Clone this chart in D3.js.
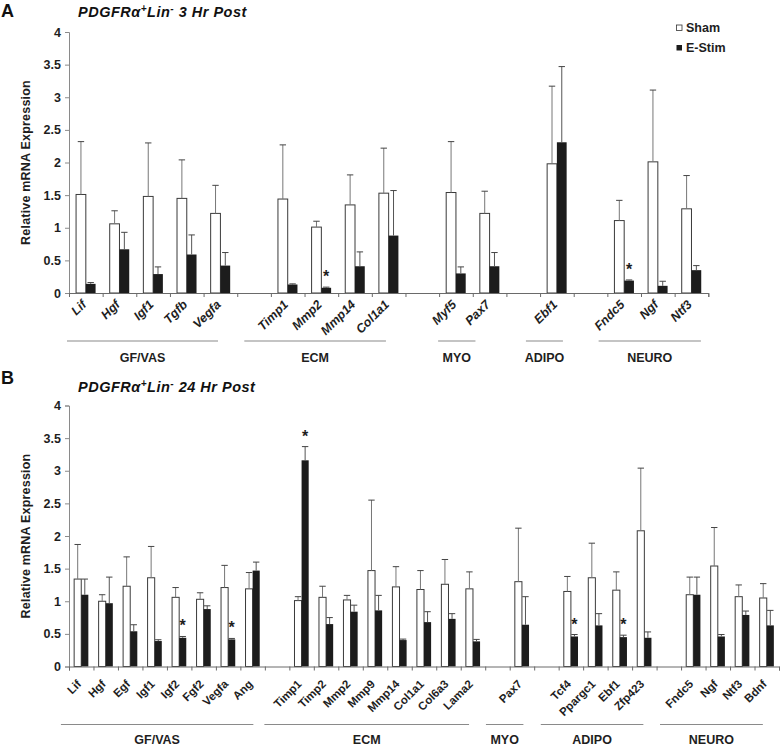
<!DOCTYPE html>
<html><head><meta charset="utf-8">
<script src="https://cdn.jsdelivr.net/npm/d3@7"></script>
<style>
html,body{margin:0;padding:0;background:#fff;}
svg{display:block;font-family:"Liberation Sans",Arial,sans-serif;}
</style></head>
<body>
<svg id="chart" width="780" height="748"></svg>
<script>
// ---------- DATA ----------
const yTicks = [0, 0.5, 1, 1.5, 2, 2.5, 3, 3.5, 4];
const seriesNames = ["Sham", "E-Stim"];
const groupNames = ["GF/VAS", "ECM", "MYO", "ADIPO", "NEURO"];

// Panel A: 3 Hr Post ("" = empty slot between groups)
const genesA   = ["Lif","Hgf","Igf1","Tgfb","Vegfa","","Timp1","Mmp2","Mmp14","Col1a1","","Myf5","Pax7","","Ebf1","","Fndc5","Ngf","Ntf3"];
const shamA    = [1.51,1.06,1.48,1.45,1.22,null,1.44,1.01,1.35,1.53,null,1.54,1.22,null,1.98,null,1.11,2.01,1.29];
const shamErrA = [0.81,0.20,0.82,0.59,0.43,null,0.83,0.09,0.46,0.69,null,0.78,0.34,null,1.19,null,0.31,1.10,0.51];
const stimA    = [0.14,0.67,0.29,0.59,0.42,null,0.13,0.08,0.41,0.88,null,0.30,0.41,null,2.31,null,0.19,0.11,0.35];
const stimErrA = [0.02,0.26,0.11,0.30,0.20,null,0.01,0.01,0.22,0.69,null,0.10,0.21,null,1.16,null,0.01,0.07,0.07];
const sigA     = ["Mmp2","Fndc5"];

// Panel B: 24 Hr Post
const genesB   = ["Lif","Hgf","Egf","Igf1","Igf2","Fgf2","Vegfa","Ang","","Timp1","Timp2","Mmp2","Mmp9","Mmp14","Col1a1","Col6a3","Lama2","","Pax7","","Tcf4","Ppargc1","Ebf1","Zfp423","","Fndc5","Ngf","Ntf3","Bdnf"];
const shamB    = [1.34,1.00,1.23,1.36,1.06,1.03,1.21,1.19,null,1.01,1.06,1.02,1.47,1.22,1.18,1.26,1.19,null,1.30,null,1.15,1.36,1.17,2.08,null,1.10,1.54,1.07,1.05];
const shamErrB = [0.53,0.10,0.45,0.48,0.15,0.10,0.34,0.25,null,0.06,0.17,0.07,1.08,0.31,0.29,0.38,0.26,null,0.82,null,0.23,0.53,0.28,0.96,null,0.27,0.59,0.18,0.22];
const stimB    = [1.10,0.97,0.54,0.39,0.44,0.88,0.415,1.47,null,3.16,0.65,0.84,0.86,0.405,0.68,0.73,0.385,null,0.64,null,0.46,0.63,0.45,0.44,null,1.10,0.46,0.79,0.63];
const stimErrB = [0.24,0.40,0.10,0.02,0.02,0.05,0.015,0.13,null,0.21,0.10,0.10,0.23,0.015,0.16,0.08,0.03,null,0.43,null,0.03,0.18,0.03,0.09,null,0.27,0.03,0.06,0.23];
const sigB     = ["Igf2","Vegfa","Timp1","Tcf4","Ebf1"];

// ---------- LAYOUT ----------
const groupSpanA = [[-0.06,4.43],[5.21,9.42],[10.97,12.08],[13.58,14.68],[15.74,18.78]];
const groupSpanB = [[-0.33,7.53],[7.98,16.34],[17.03,18.56],[19.27,23.46],[24.14,28.34]];

const svg = d3.select("#chart");
const FONT = '"Liberation Sans",Arial,sans-serif';
const TXT = "#1e1e1e";

function panel(o) {
  const n = o.genes.length;
  const x = d3.scaleBand().domain(d3.range(n)).range([o.x0, o.x1]);
  const xl = d3.scaleLinear().domain([0, n]).range([o.x0, o.x1]);
  const y = d3.scaleLinear().domain([0, 4]).range([o.yBase, o.yTop]);
  const step = x.step();
  const bw = step * 0.29;
  const g = svg.append("g");

  // y axis
  const ya = g.append("g").attr("transform", `translate(${o.x0},0)`)
    .call(d3.axisLeft(y).tickValues(yTicks).tickSize(4).tickPadding(4).tickFormat(d => d));
  ya.select(".domain").attr("stroke", "#8a8a8a");
  ya.selectAll(".tick line").attr("stroke", "#8a8a8a");
  ya.selectAll(".tick text").attr("fill", TXT).attr("font-size", 12.5).attr("font-weight", "bold").attr("font-family", FONT);

  // y title
  g.append("text").attr("transform", `translate(${o.x0 - 39},${(o.yBase + o.yTop) / 2}) rotate(-90)`)
    .attr("text-anchor", "middle").attr("font-size", 12.5).attr("font-weight", "bold").attr("fill", TXT)
    .attr("letter-spacing", 0.2)
    .text("Relative mRNA Expression");

  const cx = i => x(i) + step / 2;

  // bars
  const idx = d3.range(n).filter(i => o.sham[i] != null);
  g.selectAll(".sham").data(idx).join("rect")
    .attr("x", i => cx(i) - bw).attr("width", bw)
    .attr("y", i => y(o.sham[i])).attr("height", i => y(0) - y(o.sham[i]))
    .attr("fill", "#fff").attr("stroke", "#3a3a3a").attr("stroke-width", 1);
  g.selectAll(".stim").data(idx).join("rect")
    .attr("x", i => cx(i)).attr("width", bw)
    .attr("y", i => y(o.stim[i])).attr("height", i => y(0) - y(o.stim[i]))
    .attr("fill", "#1c1c1c");

  // error bars
  function err(vals, errs, off) {
    idx.forEach(i => {
      const xc = cx(i) + off;
      const y1 = y(vals[i]), y2 = y(vals[i] + errs[i]);
      g.append("line").attr("x1", xc).attr("x2", xc).attr("y1", y1).attr("y2", y2)
        .attr("stroke", off < 0 ? "#777" : "#555").attr("stroke-width", 1);
      g.append("line").attr("x1", xc - 3.2).attr("x2", xc + 3.2).attr("y1", y2).attr("y2", y2)
        .attr("stroke", "#444").attr("stroke-width", 1);
    });
  }
  err(o.sham, o.shamErr, -bw / 2);
  err(o.stim, o.stimErr, bw / 2);

  // significance asterisks
  o.sig.forEach(name => {
    const i = o.genes.indexOf(name);
    g.append("text").attr("x", cx(i) + bw / 2).attr("y", y(o.stim[i] + o.stimErr[i]) - 5)
      .attr("text-anchor", "middle").attr("font-size", 16).attr("font-weight", "bold").attr("fill", TXT)
      .text("*");
  });

  // x axis
  const xa = g.append("g").attr("transform", `translate(0,${o.yBase})`)
    .call(d3.axisBottom(xl).tickValues(d3.range(n + 1)).tickSize(4).tickFormat(""));
  xa.select(".domain").attr("stroke", "#6a6a6a");
  xa.selectAll(".tick line").attr("stroke", "#6a6a6a");

  // category labels
  d3.range(n).filter(i => o.genes[i]).forEach(i => {
    g.append("text").attr("transform", `translate(${cx(i) + o.labDx},${o.yBase + o.labDy}) rotate(-45)`)
      .attr("text-anchor", "end").attr("dy", "0.71em")
      .attr("font-size", o.labSize).attr("font-weight", "bold").attr("font-style", o.labItalic ? "italic" : "normal")
      .attr("fill", TXT).text(o.genes[i]);
  });

  // group lines & labels
  groupNames.forEach((name, k) => {
    const [a, b] = o.spans[k];
    const xa0 = xl(a), xb0 = xl(b);
    g.append("line").attr("x1", xa0).attr("x2", xb0).attr("y1", o.groupLineY).attr("y2", o.groupLineY)
      .attr("stroke", "#8a8a8a").attr("stroke-width", 1.2);
    g.append("text").attr("x", (xa0 + xb0) / 2).attr("y", o.groupLabelY).attr("text-anchor", "middle")
      .attr("font-size", 12.5).attr("font-weight", "bold").attr("fill", TXT).text(name);
  });

  // panel letter & title
  svg.append("text").attr("x", 1).attr("y", o.letterY).attr("font-size", 18).attr("font-weight", "bold")
    .attr("fill", "#111").text(o.letter);
  const t = svg.append("text").attr("x", 78).attr("y", o.titleY).attr("font-size", 14.5)
    .attr("font-weight", "bold").attr("font-style", "italic").attr("fill", "#111").attr("letter-spacing", 0.5);
  t.append("tspan").text("PDGFRα");
  t.append("tspan").attr("dy", -5).attr("font-size", 10).text("+");
  t.append("tspan").attr("dy", 5).text("Lin");
  t.append("tspan").attr("dy", -5).attr("font-size", 10).text("-");
  t.append("tspan").attr("dy", 5).text(o.titleRest);
}

panel({
  genes: genesA, sham: shamA, shamErr: shamErrA, stim: stimA, stimErr: stimErrA, sig: sigA,
  x0: 69, x1: 708.3, yBase: 293, yTop: 32, spans: groupSpanA,
  labDx: -5, labDy: 6, labSize: 12.5, labItalic: true,
  groupLineY: 341, groupLabelY: 362,
  letter: "A", letterY: 17, titleY: 16.5, titleRest: " 3 Hr Post"
});
panel({
  genes: genesB, sham: shamB, shamErr: shamErrB, stim: stimB, stimErr: stimErrB, sig: sigB,
  x0: 69, x1: 779, yBase: 666.5, yTop: 405.5, spans: groupSpanB,
  labDx: -5, labDy: 12.5, labSize: 11.5, labItalic: false,
  groupLineY: 724.5, groupLabelY: 744,
  letter: "B", letterY: 384, titleY: 392, titleRest: " 24 Hr Post"
});

// legend
const lg = svg.append("g");
seriesNames.forEach((s, k) => {
  lg.append("rect").attr("x", 676.5).attr("y", 25 + k * 20).attr("width", 5.5).attr("height", 5.5)
    .attr("fill", k ? "#1c1c1c" : "#fff").attr("stroke", k ? "none" : "#333").attr("stroke-width", 0.8);
  lg.append("text").attr("x", 686).attr("y", 32 + k * 20).attr("font-size", 12.5).attr("font-weight", "bold")
    .attr("fill", TXT).text(s);
});
</script>
</body></html>
